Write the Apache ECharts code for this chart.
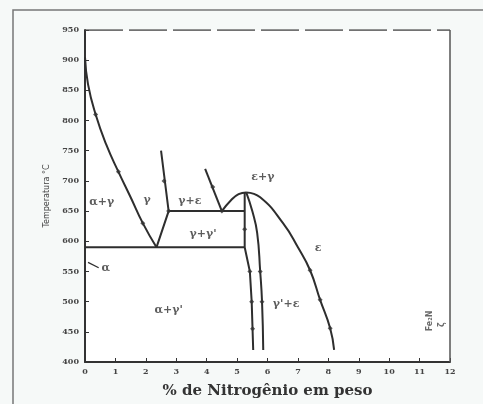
<!DOCTYPE html>
<html><head><meta charset="utf-8">
<script src="https://cdn.jsdelivr.net/npm/echarts@6/dist/echarts.min.js"></script>
<style>html,body{margin:0;padding:0;background:#f6f9f8;}#c{width:483px;height:404px;}</style>
</head><body><div id="c"></div>
<script>
// Phase boundaries (wt% N, temperature °C)
const alphaGamma = [[0,905],[0.1,860],[0.35,810],[0.7,760],[1.1,715],[1.5,673],[1.9,630],[2.35,590]];
const gammaRight = [[2.35,590],[2.75,650],[2.5,750]];
const eutectoid = [[0,590],[5.25,590]];
const iso650 = [[2.75,650],[5.25,650]];
const gammaEps = [[3.95,720],[4.5,650]];
const gammaEpsArc = [[4.5,650],[4.8,668],[5.05,678],[5.3,681]];
const gpLeft = [[5.25,680],[5.25,590],[5.42,550],[5.48,500],[5.53,420]];
const gpRight = [[5.3,681],[5.5,650],[5.66,614],[5.76,550],[5.82,500],[5.86,420]];
const epsArc = [[5.3,681],[5.76,673],[6.51,630],[7.0,590],[7.4,552],[7.73,503],[8.06,456],[8.19,420]];
const alphaLeader = [[0.1,565],[0.45,556]];
const topBorder = [[0,950],[12,950]];
const rightBorder = [[12,400],[12,950]];
const markers = [[5.42,550],[5.48,500],[5.51,455],[5.76,550],[5.82,500],[7.4,552],[7.73,503],[8.06,456],[2.75,650],[4.5,650],[5.25,620],[0.35,810],[1.1,715],[1.9,630],[2.6,700],[4.2,690]];
const phaseLabels = [
  ['α+γ',0.55,665],['γ',2.04,668],['γ+ε',3.45,667],["γ+γ'",3.88,612],
  ['ε+γ',5.85,706],['α',0.68,556],["α+γ'",2.75,486],["γ'+ε",6.61,496],['ε',7.66,589]
];
const sideLabels = [['Fe₂N',11.35,468],['ζ',11.75,462]];
const xTicks = [0,1,2,3,4,5,6,7,8,9,10,11,12];
const yTicks = [400,450,500,550,600,650,700,750,800,850,900,950];

const lc = '#2e2e2e';
function ln(data, smooth, extra){
  return Object.assign({type:'line', data, smooth: smooth||false, symbol:'none',
    lineStyle:{color:lc, width:2}, silent:true, z:3}, extra||{});
}
const chart = echarts.init(document.getElementById('c'));
chart.setOption({
  backgroundColor:'#f6f9f8',
  animation:false,
  graphic:[{type:'rect', shape:{x:13,y:10,width:520,height:440}, style:{fill:'none', stroke:'#777', lineWidth:1.5}, z:-1}],
  grid:{left:85,right:33,top:30,bottom:42, show:true, backgroundColor:'#ffffff', borderWidth:0},
  xAxis:{type:'value', min:xTicks[0], max:xTicks[xTicks.length-1], interval:1,
    axisLine:{lineStyle:{color:'#333', width:2}},
    axisTick:{inside:true, length:4, lineStyle:{color:'#333'}},
    splitLine:{show:false},
    axisLabel:{color:'#444', fontSize:8, fontWeight:'bold', fontFamily:'DejaVu Serif', margin:6},
    name:'% de Nitrogênio em peso', nameLocation:'middle', nameGap:22,
    nameTextStyle:{fontFamily:'DejaVu Serif', fontWeight:'bold', fontSize:15, color:'#333'}},
  yAxis:{type:'value', min:yTicks[0], max:yTicks[yTicks.length-1], interval:50,
    axisLine:{show:true, lineStyle:{color:'#333', width:2}},
    axisTick:{show:true, inside:true, length:4, lineStyle:{color:'#333'}},
    splitLine:{show:false},
    axisLabel:{color:'#444', fontSize:8, fontWeight:'bold', fontFamily:'DejaVu Serif', margin:6},
    name:'Temperatura °C', nameLocation:'middle', nameGap:34,
    nameTextStyle:{fontFamily:'DejaVu Sans', fontSize:8, color:'#444'}},
  series:[
    ln(alphaGamma,true),
    ln(gammaRight),
    ln(eutectoid),
    ln(iso650),
    ln(gammaEps),
    ln(gammaEpsArc,true),
    ln(gpLeft),
    ln(gpRight,true),
    ln(epsArc,true),
    ln(alphaLeader,false,{lineStyle:{color:lc,width:1.2}}),
    ln(topBorder,false,{lineStyle:{color:'#444',width:1.5,type:[38,6]}}),
    ln(rightBorder,false,{lineStyle:{color:'#555',width:1.5}}),
    {type:'scatter', data:markers, symbol:'diamond', symbolSize:5, itemStyle:{color:'#333'}, silent:true, z:4},
    {type:'scatter', data:phaseLabels.map(d=>({name:d[0], value:[d[1],d[2]]})), symbolSize:0, silent:true, z:5,
      label:{show:true, position:'inside', formatter:p=>p.name, fontFamily:'DejaVu Serif', fontWeight:'bold', fontSize:11, color:'#333'}},
    {type:'scatter', data:sideLabels.map(d=>({name:d[0], value:[d[1],d[2]]})), symbolSize:0, silent:true, z:5,
      label:{show:true, position:'inside', rotate:90, formatter:p=>p.name, fontFamily:'DejaVu Sans', fontWeight:'bold', fontSize:8, color:'#444'}}
  ]
});
</script></body></html>
